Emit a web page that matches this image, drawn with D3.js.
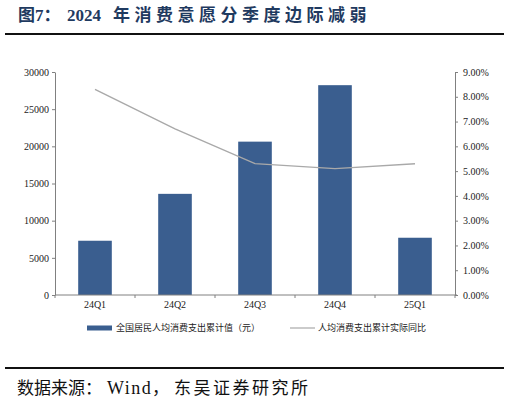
<!DOCTYPE html>
<html lang="zh">
<head>
    <meta charset="UTF-8">
    <title>图7</title>
    <script src="https://d3js.org/d3.v7.min.js"></script>
    <style>
        body {background:#fff; margin:0}
        svg {display:block}
    </style>
</head>
<body>
<svg id="chart" width="510" height="402"></svg>
<script>
// quarters and values
var quarters = ["24Q1", "24Q2", "24Q3", "24Q4", "25Q1"];
var spending = [7299, 13608, 20631, 28227, 7703];      // 全国居民人均消费支出累计值（元）
var realGrowth = [0.083, 0.067, 0.053, 0.051, 0.053];  // 人均消费支出累计实际同比
var leftTicks = [0, 5000, 10000, 15000, 20000, 25000, 30000];
var rightTicks = [0, 0.01, 0.02, 0.03, 0.04, 0.05, 0.06, 0.07, 0.08, 0.09];

var barColor = "#3a5e8f", lineColor = "#a9a9a9", axisColor = "#808080";
var serif = "'Liberation Serif', 'Times New Roman', serif";
var cjk = "'Noto Sans CJK SC', sans-serif";

var svg = d3.select("#chart");

// title (pieces placed where the reference has them)
var title = svg.append("text")
    .attr("y", 21)
    .attr("fill", "#1f3a60")
    .attr("font-weight", "bold")
    .attr("font-size", 17);
title.append("tspan").attr("x", 18).attr("font-family", cjk).text("图");
title.append("tspan").attr("font-family", serif).text("7");
title.append("tspan").attr("font-family", cjk).text("：");
title.append("tspan").attr("x", 67).attr("font-family", serif).text("2024");
title.append("tspan").attr("x", 113).attr("font-family", cjk).attr("letter-spacing", 4.5).text("年消费意愿分季度边际减弱");

svg.append("line").attr("x1", 5).attr("x2", 504).attr("y1", 34).attr("y2", 34)
    .attr("stroke", "#111").attr("stroke-width", 2);
svg.append("line").attr("x1", 5).attr("x2", 504).attr("y1", 368).attr("y2", 368)
    .attr("stroke", "#111").attr("stroke-width", 2);

var source = svg.append("text")
    .attr("y", 394)
    .attr("font-size", 17).attr("fill", "#111");
source.append("tspan").attr("x", 17).attr("font-family", cjk).text("数据来源：");
source.append("tspan").attr("x", 107).attr("font-family", serif).attr("font-size", 18).attr("letter-spacing", 1.5).text("Wind");
source.append("tspan").attr("x", 152).attr("font-family", cjk).text("，");
source.append("tspan").attr("x", 174).attr("font-family", cjk).attr("letter-spacing", 2.5).text("东吴证券研究所");

// plot area
var plotLeft = 55, plotRight = 455, plotTop = 72, plotBottom = 295;
var x = d3.scaleBand().domain(quarters).range([plotLeft, plotRight])
    .paddingInner(0.58).paddingOuter(0.29);
var yL = d3.scaleLinear().domain([0, 30000]).range([plotBottom, plotTop]);
var yR = d3.scaleLinear().domain([0, 0.09]).range([plotBottom, plotTop]);

// bars
svg.append("g").selectAll("rect")
    .data(spending)
    .enter()
    .append("rect")
    .attr("x", function(d, i){ return x(quarters[i]); })
    .attr("y", function(d){ return yL(d); })
    .attr("width", x.bandwidth())
    .attr("height", function(d){ return plotBottom - yL(d); })
    .attr("fill", barColor);

// line
var line = d3.line()
    .x(function(d, i){ return x(quarters[i]) + x.bandwidth() / 2; })
    .y(function(d){ return yR(d); });
svg.append("path")
    .datum(realGrowth)
    .attr("d", line)
    .attr("fill", "none")
    .attr("stroke", lineColor)
    .attr("stroke-width", 1.4);

// axes
function styleAxis(g){
    g.selectAll("path, line").attr("stroke", axisColor);
    g.selectAll("text").attr("font-family", serif).attr("font-size", 10).attr("fill", "#222");
}
svg.append("g")
    .attr("transform", "translate(" + plotLeft + ",0)")
    .call(d3.axisLeft(yL).tickValues(leftTicks).tickSize(3).tickSizeOuter(0).tickPadding(3)
        .tickFormat(d3.format("d")))
    .call(styleAxis);
svg.append("g")
    .attr("transform", "translate(" + plotRight + ",0)")
    .call(d3.axisRight(yR).tickValues(rightTicks).tickSize(3).tickSizeOuter(0).tickPadding(5)
        .tickFormat(d3.format(".2%")))
    .call(styleAxis);

var xAxis = svg.append("g").attr("transform", "translate(0," + plotBottom + ")");
xAxis.append("line").attr("x1", plotLeft).attr("x2", plotRight + 2).attr("stroke", axisColor);
xAxis.selectAll(".tick")
    .data(d3.range(quarters.length + 1))
    .enter()
    .append("line")
    .attr("x1", function(d){ return plotLeft + d * x.step(); })
    .attr("x2", function(d){ return plotLeft + d * x.step(); })
    .attr("y1", 0).attr("y2", 3)
    .attr("stroke", axisColor);
xAxis.selectAll("text")
    .data(quarters)
    .enter()
    .append("text")
    .attr("x", function(d){ return x(d) + x.bandwidth() / 2; })
    .attr("y", 13)
    .attr("text-anchor", "middle")
    .attr("font-family", serif).attr("font-size", 10).attr("fill", "#222")
    .text(function(d){ return d; });

// legend
var legend = svg.append("g").attr("font-family", cjk).attr("font-size", 9).attr("fill", "#222");
legend.append("rect").attr("x", 87).attr("y", 325.5).attr("width", 25).attr("height", 5).attr("fill", barColor);
legend.append("text").attr("x", 116).attr("y", 331).text("全国居民人均消费支出累计值（元）");
legend.append("line").attr("x1", 290).attr("x2", 315).attr("y1", 328).attr("y2", 328)
    .attr("stroke", lineColor).attr("stroke-width", 1.2);
legend.append("text").attr("x", 318).attr("y", 331).text("人均消费支出累计实际同比");
</script>
</body>
</html>
